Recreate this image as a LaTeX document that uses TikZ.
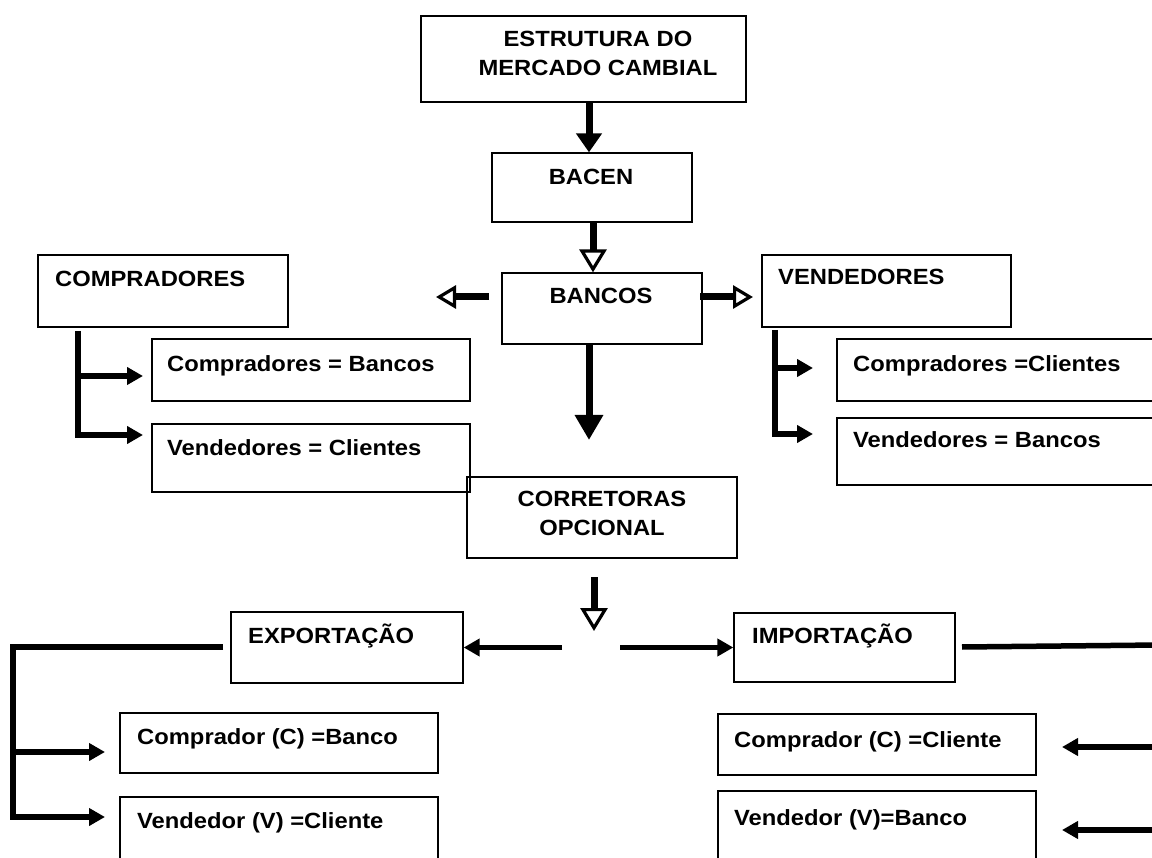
\documentclass[tikz,border=0pt]{standalone}
\usepackage{fontspec}
\setmainfont{Liberation Sans}[FakeStretch=1.08]
\usetikzlibrary{arrows.meta,fit}
\begin{document}
\begin{tikzpicture}[x=1pt,y=-1pt,
  box/.style={draw=black, line width=1.3pt, inner sep=0pt, fit={#1}},
  lbl/.style={anchor=base west, inner sep=0pt, font=\fontsize{22}{26}\selectfont\bfseries},
  clbl/.style={lbl, anchor=base},
  solidarrow/.style={line width=7pt, -{Triangle[length=19pt,width=25pt]}},
  hollowarrow/.style={line width=7pt, -{Triangle[open,line width=3.2pt,length=23pt,width=27pt]}},
  sidearrow/.style={line width=7pt, -{Triangle[open,line width=3.2pt,length=20pt,width=23pt]}},
  conn/.style={line width=5.5pt, line join=miter, -{Triangle[length=16pt,width=17pt]}},
  plainline/.style={line width=5.5pt, line join=miter},
]
\useasboundingbox (0,0) rectangle (1152,858);
\clip (0,0) rectangle (1152,858);

% boxes
\node[box={(421,16) (746,102)}] (top) {};
\node[box={(492,153) (692,222)}] (bacen) {};
\node[box={(502,273) (702,344)}] (bancos) {};
\node[box={(38,255) (288,327)}] (compr) {};
\node[box={(152,339) (470,401)}] (cb) {};
\node[box={(152,424) (470,492)}] (vc) {};
\node[box={(762,255) (1011,327)}] (vend) {};
\node[box={(837,339) (1165,401)}] (ccl) {};
\node[box={(837,418) (1165,485)}] (vb) {};
\node[box={(467,477) (737,558)}] (corr) {};
\node[box={(231,612) (463,683)}] (expo) {};
\node[box={(120,713) (438,773)}] (cxb) {};
\node[box={(120,797) (438,866)}] (vxc) {};
\node[box={(734,613) (955,682)}] (impo) {};
\node[box={(718,714) (1036,775)}] (cic) {};
\node[box={(718,791) (1036,866)}] (vib) {};

% texts
\node[clbl] (t1) at (598,47) {ESTRUTURA DO};
\node[clbl] (t2) at (598,76) {MERCADO CAMBIAL};
\node[clbl] (t3) at (591,185) {BACEN};
\node[clbl] (t4) at (601,304) {BANCOS};
\node[lbl] (t5) at (55,287) {COMPRADORES};
\node[lbl] (t6) at (167,372) {Compradores = Bancos};
\node[lbl] (t7) at (167,456) {Vendedores = Clientes};
\node[lbl] (t8) at (778,285) {VENDEDORES};
\node[lbl] (t9) at (853,372) {Compradores =Clientes};
\node[lbl] (t10) at (853,448) {Vendedores = Bancos};
\node[clbl] (t11) at (602,507) {CORRETORAS};
\node[clbl] (t12) at (602,536) {OPCIONAL};
\node[lbl] (t13) at (248,643) {EXPORTAÇÃO};
\node[lbl] (t14) at (752,643) {IMPORTAÇÃO};
\node[lbl] (t15) at (137,744) {Comprador (C) =Banco};
\node[lbl] (t16) at (137,828) {Vendedor (V) =Cliente};
\node[lbl] (t17) at (734,747) {Comprador (C) =Cliente};
\node[lbl] (t18) at (734,825) {Vendedor (V)=Banco};

% coordinates for free ends
\coordinate (ax) at (589,0);
\coordinate (bx) at (593,0);
\coordinate (bdown) at (589,440);
\coordinate (bl0) at (489,297);
\coordinate (bl1) at (436,297);
\coordinate (br0) at (700,297);
\coordinate (br1) at (753,297);
\coordinate (cL1) at (78,331);
\coordinate (cA) at (143,376);
\coordinate (cB) at (143,435);
\coordinate (vL1) at (775,330);
\coordinate (vA) at (813,368);
\coordinate (vB) at (813,434);
\coordinate (ch0) at (594,577);
\coordinate (ch1) at (594,631);
\coordinate (jl) at (562,647.5);
\coordinate (jr) at (620,647.5);
\coordinate (e0) at (223,647);
\coordinate (eC) at (13,647);
\coordinate (eA) at (105,752);
\coordinate (eB) at (105,817);
\coordinate (i0) at (962,647);
\coordinate (i1) at (1160,645);
\coordinate (iA0) at (1160,747);
\coordinate (iA1) at (1062,747);
\coordinate (iB0) at (1160,830);
\coordinate (iB1) at (1062,830);

% connectors
\draw[solidarrow] (top.south -| ax) -- (bacen.north -| ax);
\draw[hollowarrow] (bacen.south -| bx) -- (bancos.north -| bx);
\draw[sidearrow] (bl0) -- (bl1);
\draw[sidearrow] (br0) -- (br1);
\draw[solidarrow, -{Triangle[length=25pt,width=27pt]}] (bancos.south -| bdown) -- (bdown);

\draw[conn] (cL1) |- (cB);
\draw[conn] (cA -| cL1) -- (cA);
\draw[conn] (vL1) |- (vB);
\draw[conn] (vA -| vL1) -- (vA);

\draw[hollowarrow] (ch0) -- (ch1);
\draw[conn] (jl) -- (expo.east);
\draw[conn] (jr) -- (impo.west);

\draw[conn] (e0) -- (eC) |- (eB);
\draw[conn] (eA -| eC) -- (eA);

\draw[plainline] (i0) -- (i1);
\draw[conn] (iA0) -- (iA1);
\draw[conn] (iB0) -- (iB1);
\end{tikzpicture}
\end{document}
